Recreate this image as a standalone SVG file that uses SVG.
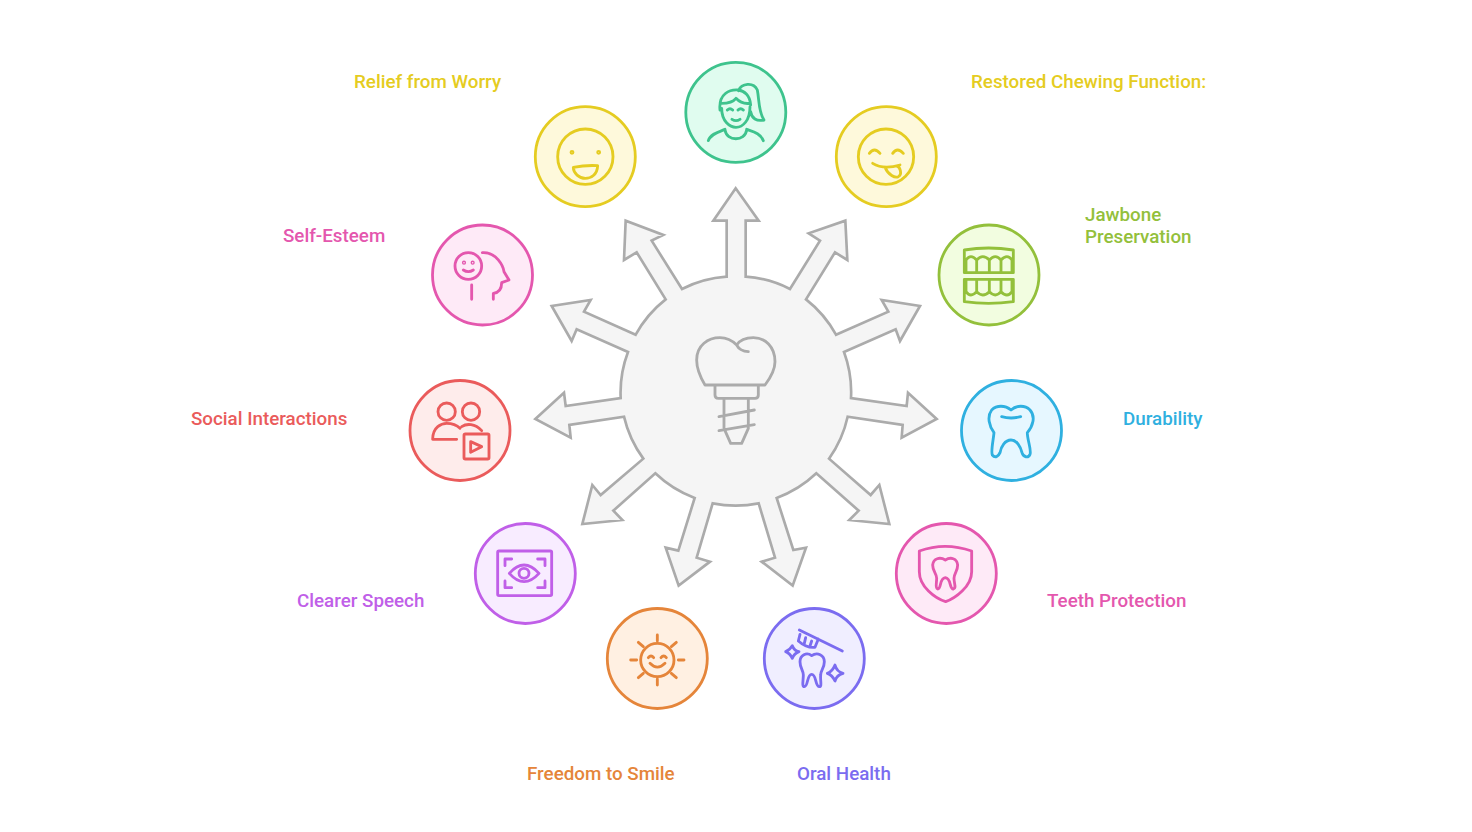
<svg xmlns="http://www.w3.org/2000/svg" width="1472" height="832" viewBox="0 0 1472 832">
<style>
text{font-family:Roboto,"Liberation Sans",sans-serif;font-size:18.8px;font-weight:500}
.ring{stroke-width:2.8}
.ic{fill:none;stroke-width:8.5;stroke-linecap:round;stroke-linejoin:round}
.hub{fill:#f5f5f5;stroke:#ababab;stroke-width:8;stroke-linejoin:miter}
.hi{fill:none;stroke:#ababab;stroke-width:8.5;stroke-linecap:round;stroke-linejoin:round}
.gr{color:#3ec38d}.ye{color:#e5cc21}.pi{color:#e457ae}.re{color:#ea5b5b}.pu{color:#c05fe8}.or{color:#e5853a}.vi{color:#7b6cf0}.bl{color:#2fb0e0}.li{color:#93c03b}
.ring,.ic{stroke:currentColor}
text{fill:currentColor}
</style>
<rect width="1472" height="832" fill="#fff"/>
<g id="connectors">
<path class="hub" transform="translate(520 170) scale(.33333)" d="M620 320V152H580L647 55L716 152H677V320A345 345 0 0 1 810 357L900 212L866 190L976 152L982 270L945 247L858 388A345 345 0 0 1 948 494L1105 425L1085 390L1200 408L1140 513L1127 478L972 546A345 345 0 0 1 993 684L1160 708L1164 668L1250 747L1145 803L1148 765L983 740A345 345 0 0 1 927 866L1052 975L1078 945L1108 1062L988 1050L1016 1022L889 910A345 345 0 0 1 770 984L820 1140L858 1133L818 1247L725 1175L765 1163L716 1000A345 345 0 0 1 578 1000L530 1163L570 1175L476 1247L437 1133L475 1142L524 984A345 345 0 0 1 406 910L280 1022L307 1050L187 1062L217 945L242 975L370 866A345 345 0 0 1 312 740L148 765L152 803L46 747L132 668L137 708L302 684A345 345 0 0 1 324 546L170 478L155 513L95 408L212 390L192 425L347 494A345 345 0 0 1 437 388L350 247L312 270L317 152L430 195L395 212L486 357A345 345 0 0 1 620 320Z"/>
</g>
<g id="hub-icon" transform="translate(520 170) scale(.33333)">
<path class="hi" d="M555 645C540 620 530 590 530 570C530 525 565 503 600 503C625 503 640 515 650 525C660 510 680 503 700 503C735 503 765 530 765 575C765 600 750 625 735 645ZM650 525C655 535 668 545 685 545M585 648V675Q585 685 595 685H705Q715 685 715 675V648M612 688V775L632 820H665L685 775V688M597 740L703 720M597 782L703 764"/>
</g>
<g id="node-top" class="gr">
<circle class="ring" cx="735.8" cy="112.3" r="50" fill="#e0fcef"/>
<g class="ic" transform="translate(520 50) scale(.33333)"><path d="M605 175C605 215 630 232 648 232C668 232 690 212 690 170M600 180C595 130 630 118 655 120C672 122 690 135 692 165M605 160C625 160 640 155 648 145C660 158 675 162 690 160M655 122C665 100 700 95 712 120C718 150 715 185 732 210C710 215 695 205 692 185M622 180Q630 172 638 180M654 180Q662 172 670 180M636 208Q648 216 660 208M565 272C572 250 600 245 615 238M680 238C700 245 722 250 730 272M615 240C620 275 675 275 680 240"/></g>
</g>
<g id="node-relief" class="ye">
<circle class="ring" cx="585.3" cy="156.7" r="50" fill="#fef9db"/>
<g class="ic" transform="translate(520 50) scale(.33333)"><circle cx="196" cy="320" r="83"/><circle cx="156" cy="307" r="3"/><circle cx="236" cy="307" r="3"/><path d="M160 352Q196 345 233 347C232 375 212 385 196 385C178 385 160 370 160 352Z"/></g>
<text x="354" y="88">Relief from Worry</text>
</g>
<g id="node-chewing" class="ye">
<circle class="ring" cx="886.3" cy="156.7" r="50" fill="#fef9db"/>
<g class="ic" transform="translate(520 50) scale(.33333)"><circle cx="1098" cy="320" r="83"/><path d="M1048 310Q1063 290 1080 310M1118 310Q1132 290 1150 310M1058 340Q1090 360 1140 345M1095 352C1105 375 1125 385 1135 380C1148 372 1140 350 1130 348"/></g>
<text x="971" y="88">Restored Chewing Function:</text>
</g>
<g id="node-esteem" class="pi">
<circle class="ring" cx="482.5" cy="275" r="50" fill="#feeaf7"/>
<g class="ic" transform="translate(400 210) scale(.33333)"><circle cx="205" cy="168" r="40"/><circle cx="192" cy="158" r="2"/><circle cx="218" cy="158" r="2"/><path d="M190 180Q205 190 220 180M215 225V268M247 128C290 125 310 170 312 185L327 210L305 218C305 240 295 248 280 250V268"/></g>
<text x="283" y="242">Self-Esteem</text>
</g>
<g id="node-jawbone" class="li">
<circle class="ring" cx="989" cy="275" r="50" fill="#f2fde0"/>
<g class="ic" transform="translate(930 210) scale(.33333)"><path d="M103 120Q175 108 250 120V188H103ZM108 185V150Q122 130 140 150V185M140 150Q158 130 178 150V185M178 150Q196 130 213 150V185M213 150Q232 130 246 150V185M103 208H250V275Q175 285 103 275ZM108 212V245Q122 265 140 245V212M140 245Q158 265 178 245V212M178 245Q196 265 213 245V212M213 245Q232 265 246 245V212"/></g>
<text x="1085" y="221">Jawbone</text><text x="1085" y="243">Preservation</text>
</g>
<g id="node-social" class="re">
<circle class="ring" cx="460" cy="430.5" r="50" fill="#feeceb"/>
<g class="ic" transform="translate(400 210) scale(.33333)"><circle cx="140" cy="605" r="26"/><circle cx="213" cy="605" r="26"/><path d="M98 688C98 650 125 640 140 640C155 640 170 645 180 655M98 688H170M185 650C200 640 225 640 245 662M212 695L245 710L212 727Z"/><rect x="192" y="672" width="75" height="75" rx="4"/></g>
<text x="191" y="424.5">Social Interactions</text>
</g>
<g id="node-durability" class="bl">
<circle class="ring" cx="1011.5" cy="430.5" r="50" fill="#e6f7ff"/>
<g class="ic" transform="translate(930 210) scale(.33333)"><path d="M243 600C225 585 200 585 185 600C170 620 178 650 192 668C190 690 182 725 187 735C195 745 205 740 210 728C213 710 225 690 243 690C260 690 272 710 276 728C280 742 295 745 300 733C305 720 292 690 292 668C308 650 318 620 300 600C285 585 260 585 243 600ZM215 620Q243 628 272 620"/></g>
<text x="1123" y="424.5">Durability</text>
</g>
<g id="node-speech" class="pu">
<circle class="ring" cx="525.3" cy="573.5" r="50" fill="#f8ecff"/>
<g class="ic" transform="translate(465 515) scale(.33333)"><rect x="98" y="108" width="162" height="134" rx="4"/><path d="M140 132H120V152M218 132H240V152M120 198V218H140M240 198V218H218M133 175Q177 125 222 175Q177 225 133 175Z"/><circle cx="177" cy="175" r="15"/></g>
<text x="297" y="607">Clearer Speech</text>
</g>
<g id="node-protection" class="pi">
<circle class="ring" cx="946.3" cy="573.5" r="50" fill="#feeaf7"/>
<g class="ic" transform="translate(755 515) scale(.33333)"><path d="M493 108Q570 80 650 108V170C650 215 600 250 572 260C540 250 493 215 493 170ZM571 135C555 125 535 130 533 150C533 170 545 175 545 190C545 205 540 220 548 222C560 222 552 190 571 188C590 190 582 222 595 222C605 220 597 205 597 190C597 175 608 170 608 150C606 130 587 125 571 135Z"/></g>
<text x="1047" y="607">Teeth Protection</text>
</g>
<g id="node-smile" class="or">
<circle class="ring" cx="657.3" cy="658.5" r="50" fill="#fff0e2"/>
<g class="ic" transform="translate(465 515) scale(.33333)"><circle cx="577" cy="435" r="50"/><path d="M577 360V378M577 492V510M497 435H515M640 435H657M520 382L535 395M634 382L619 395M520 488L535 475M634 488L619 475M550 428Q558 418 566 428M588 428Q596 418 604 428M555 445Q577 468 600 445"/></g>
<text x="527" y="780">Freedom to Smile</text>
</g>
<g id="node-oral" class="vi">
<circle class="ring" cx="814.3" cy="658.5" r="50" fill="#f0eeff"/>
<g class="ic" transform="translate(755 515) scale(.33333)"><path d="M133 345L262 408M135 358L130 378Q155 400 180 397L190 372M152 368L148 385M170 378L165 393M112 392Q118 408 132 410Q118 415 112 430Q105 415 92 410Q105 405 112 392ZM240 450Q245 470 264 475Q245 480 240 498Q232 480 217 475Q232 470 240 450ZM170 422C155 410 135 420 135 440C135 460 145 465 145 480C145 495 140 515 148 515C160 515 155 478 170 478C185 478 180 515 193 515C202 515 195 495 197 480C197 465 208 460 208 440C208 420 187 410 170 422Z"/></g>
<text x="797" y="780">Oral Health</text>
</g>
</svg>
